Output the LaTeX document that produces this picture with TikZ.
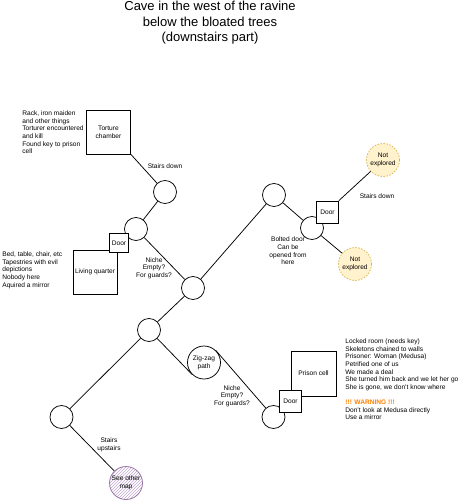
\documentclass[tikz,border=0pt]{standalone}
\usepackage{fontspec}
\setmainfont{Liberation Sans}
\usetikzlibrary{patterns}
\definecolor{warnorange}{HTML}{FF8000}
\definecolor{unexfill}{HTML}{FFF2CC}
\definecolor{unexline}{HTML}{D6B656}
\definecolor{mapline}{HTML}{9673A6}
\definecolor{maphatch}{HTML}{C3ABD0}

\begin{document}
\begin{tikzpicture}[x=1pt,y=-1pt,line width=0.75pt,
  every node/.style={font=\fontsize{6.6}{7.6}\selectfont,align=center,inner sep=0pt},
  spot/.style={draw,circle,fill=white,minimum size=23pt},
  room/.style={draw,fill=white,minimum size=44pt},
  doorbox/.style={draw,fill=white,minimum size=22pt},
  unexplored/.style={circle,draw=unexline,dash pattern=on 1.5pt off 1.5pt,fill=unexfill,minimum size=33pt},
  othermap/.style={circle,draw=mapline,preaction={fill=white},pattern=north east lines,pattern color=maphatch,minimum size=33pt},
  note/.style={anchor=north west,align=left}]

\useasboundingbox (0,0) rectangle (470,500);

\node[font=\fontsize{13}{15.5}\selectfont] (title) at (210,23) {Cave in the west of the ravine\\below the bloated trees\\(downstairs part)};

\node[note] (torturetext) at (22,110.5) {Rack, iron maiden\\and other things\\Torturer encountered\\and kill\\Found key to prison\\cell};
\node[room] (torture) at (108.5,132) {Torture\\chamber};
\node[spot] (c1) at (165,192) {};
\node[spot] (c2) at (136,229) {};
\node[room] (living) at (95,272) {Living quarter};
\node[doorbox,minimum size=19pt] (door1) at (119,243) {Door};
\node[note] (livingtext) at (2,251.5) {Bed, table, chair, etc\\Tapestries with evil\\depictions\\Nobody here\\Aquired a mirror};
\node[spot] (c3) at (193,288) {};
\node[spot] (c4) at (274,195) {};
\node[spot] (c5) at (312,228) {};
\node[doorbox] (door2) at (327.5,212) {Door};
\node[unexplored] (unex1) at (383,160) {Not\\explored};
\node[unexplored] (unex2) at (355,264) {Not\\explored};
\node[spot] (c6) at (149,330) {};
\node[spot] (c7) at (61.5,417) {};
\node[othermap] (othermap) at (126,483) {See other\\map};
\node[spot,minimum size=33pt] (zigzag) at (204,362.5) {Zig-zag\\path};
\node[spot] (c8) at (273.5,417) {};
\node[room,minimum size=45pt] (prison) at (313.5,373.5) {Prison cell};
\node[doorbox] (door3) at (290.5,401) {Door};
\node[note] (prisontext) at (345,338.5) {Locked room (needs key)\\Skeletons chained to walls\\Prisoner: Woman (Medusa)\\Petrified one of us\\We made a deal\\She turned him back and we let her go\\She is gone, we don't know where\\[7.6pt]{\color{warnorange}\bfseries !!! WARNING !!!}\\Don't look at Medusa directly\\Use a mirror};

\node (stairs1) at (165,166) {Stairs down};
\node (niche1) at (154,268) {Niche\\Empty?\\For guards?};
\node (bolted) at (288,251) {Bolted door\\Can be\\opened from\\here};
\node (stairs2) at (377,196) {Stairs down};
\node (upstairs) at (109,445) {Stairs\\upstairs};
\node (niche2) at (232,396) {Niche\\Empty?\\For guards?};

\draw (torture.south east) -- (c1);
\draw (c1) -- (c2);
\draw (c2) -- (c3);
\draw (c3) -- (c4);
\draw (c4) -- (c5);
\draw (c5) -- (unex2);
\draw (door2.north east) -- (unex1);
\draw (c3) -- (c6);
\draw (c6) -- (c7);
\draw (c7) -- (othermap);
\draw (c6) -- (zigzag.south west);
\draw (zigzag.north east) -- (c8);

\end{tikzpicture}
\end{document}
